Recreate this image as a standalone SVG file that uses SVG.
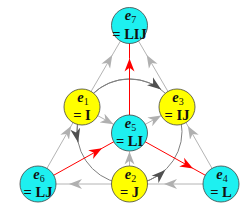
<svg xmlns="http://www.w3.org/2000/svg" width="250" height="210" viewBox="0 0 250 210">
<style>
.ln{fill:none;stroke:#b4b4b4;stroke-width:1}
.rd{fill:none;stroke:#ff0000;stroke-width:1}
.cl{fill:none;stroke:#808080;stroke-width:1}
.cy{fill:#1ef0f0;stroke:#444;stroke-width:0.8}
.ye{fill:#ffff00;stroke:#444;stroke-width:0.8}
.t{font-family:"Liberation Serif","Times New Roman",serif;font-size:14.5px;font-weight:bold;fill:#111;text-anchor:middle}
.e{font-style:italic}
.s{font-size:10px;font-style:normal;font-weight:normal}
</style>
<defs>
<marker id="ag" markerUnits="userSpaceOnUse" markerWidth="15" markerHeight="11" refX="13" refY="5.5" orient="auto" viewBox="0 0 15 11"><path d="M13,5.5 L0,0.5 L3.8,5.5 L0,10.5 Z" fill="#b0b0b0"/></marker>
<marker id="ar" markerUnits="userSpaceOnUse" markerWidth="15" markerHeight="11" refX="13" refY="5.5" orient="auto" viewBox="0 0 15 11"><path d="M13,5.5 L0,0.5 L3.8,5.5 L0,10.5 Z" fill="#ff0000"/></marker>
<marker id="ad" markerUnits="userSpaceOnUse" markerWidth="16" markerHeight="11" refX="14" refY="5.5" orient="auto" viewBox="0 0 16 11"><path d="M14,5.5 L0,0.5 L4,5.5 L0,10.5 Z" fill="#505050"/></marker>
</defs>
<g id="connectors">
<circle class="cl" cx="129.5" cy="131.5" r="52.5"/>
<path class="cl" d="M84,105.25 A52.5,52.5 0 0 1 161.1,89.6" marker-end="url(#ad)"/>
<path class="cl" d="M81.9,109.3 A52.5,52.5 0 0 0 78.15,142.4" marker-end="url(#ad)"/>
<path class="cl" d="M129.5,184 A52.5,52.5 0 0 0 165.3,169.9" marker-end="url(#ad)"/>
<path class="ln" d="M82,107 L112.3,55 L129.5,25.5" marker-mid="url(#ag)"/>
<path class="ln" d="M177,107 L146.7,55 L129.5,25.5" marker-mid="url(#ag)"/>
<path class="ln" d="M38,184 L71.1,126 L82,107" marker-mid="url(#ag)"/>
<path class="ln" d="M221,184 L187.9,126 L177,107" marker-mid="url(#ag)"/>
<path class="ln" d="M221,184 L164,184 L129.5,184" marker-mid="url(#ag)"/>
<path class="ln" d="M129.5,184 L69,184 L38,184" marker-mid="url(#ag)"/>
<path class="ln" d="M82,107 L113.5,124.3" marker-end="url(#ag)"/>
<path class="ln" d="M129.5,133 L161.2,115.6" marker-end="url(#ag)"/>
<path class="ln" d="M129.5,184 L129.5,151.5" marker-end="url(#ag)"/>
<path class="rd" d="M129.5,133 L129.5,58.5 L129.5,25.5" marker-mid="url(#ar)"/>
<path class="rd" d="M38,184 L102,148.3 L129.5,133" marker-mid="url(#ar)"/>
<path class="rd" d="M129.5,133 L193,168.4 L221,184" marker-mid="url(#ar)"/>
</g>
<g id="e7"><circle class="cy" cx="129.5" cy="25.5" r="18"/><text class="t" x="130.5" y="20"><tspan class="e">e</tspan><tspan class="s" dy="3">7</tspan></text><text class="t" x="129.5" y="38.5">= LIJ</text></g>
<g id="e1"><circle class="ye" cx="82" cy="107" r="18"/><text class="t" x="83" y="101.5"><tspan class="e">e</tspan><tspan class="s" dy="3">1</tspan></text><text class="t" x="82" y="120">= I</text></g>
<g id="e3"><circle class="ye" cx="177" cy="107" r="18"/><text class="t" x="178" y="101.5"><tspan class="e">e</tspan><tspan class="s" dy="3">3</tspan></text><text class="t" x="177" y="120">= IJ</text></g>
<g id="e5"><circle class="cy" cx="129.5" cy="133" r="18"/><text class="t" x="130.5" y="127.5"><tspan class="e">e</tspan><tspan class="s" dy="3">5</tspan></text><text class="t" x="129.5" y="146">= LI</text></g>
<g id="e6"><circle class="cy" cx="38" cy="184" r="18"/><text class="t" x="39" y="178.5"><tspan class="e">e</tspan><tspan class="s" dy="3">6</tspan></text><text class="t" x="38" y="197">= LJ</text></g>
<g id="e2"><circle class="ye" cx="129.5" cy="184" r="18"/><text class="t" x="130.5" y="178.5"><tspan class="e">e</tspan><tspan class="s" dy="3">2</tspan></text><text class="t" x="129.5" y="197">= J</text></g>
<g id="e4"><circle class="cy" cx="221" cy="184" r="18"/><text class="t" x="222" y="178.5"><tspan class="e">e</tspan><tspan class="s" dy="3">4</tspan></text><text class="t" x="221" y="197">= L</text></g>
</svg>
